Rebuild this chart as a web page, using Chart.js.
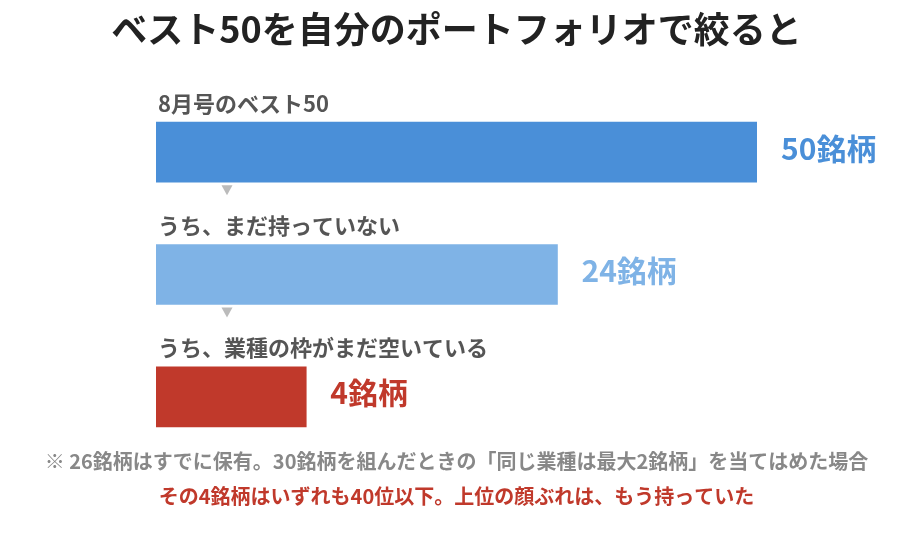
<!DOCTYPE html>
<html>
<head>
<meta charset="utf-8">
<script src="https://cdn.jsdelivr.net/npm/chart.js@4"></script>
<style>
  html, body { margin: 0; padding: 0; background: #fff; }
  #wrap { width: 913px; height: 542px; position: relative; }
</style>
</head>
<body>
<div id="wrap"><canvas id="chart"></canvas></div>
<script>
var titleText = 'ベスト50を自分のポートフォリオで絞ると';
var categories = ['8月号のベスト50', 'うち、まだ持っていない', 'うち、業種の枠がまだ空いている'];
var counts = [50, 24, 4];
// bar lengths as drawn in the picture (same units as the top bar = 50)
var barLengths = [50, 33.4, 12.5];
var barColors = ['#4a8fd8', '#7fb3e6', '#c0392b'];
var notes = [
    '※ 26銘柄はすでに保有。30銘柄を組んだときの「同じ業種は最大2銘柄」を当てはめた場合',
    'その4銘柄はいずれも40位以下。上位の顔ぶれは、もう持っていた'
];
var noteColors = ['#888888', '#c0392b'];

var FONT = '"Noto Sans CJK JP", "Noto Sans", sans-serif';

// draws title, labels above bars, value labels, arrows and notes
var decorations = {
    id: 'decorations',
    afterDatasetsDraw: function (chart) {
        var ctx = chart.ctx;
        var bars = chart.getDatasetMeta(0).data;
        ctx.save();

        ctx.fillStyle = '#222';
        ctx.font = 'bold 36px ' + FONT;
        ctx.textAlign = 'center';
        ctx.textBaseline = 'middle';
        ctx.fillText(titleText, chart.width / 2, 29);

        bars.forEach(function (bar, i) {
            var top = bar.y - bar.height / 2;
            var bottom = bar.y + bar.height / 2;

            ctx.textAlign = 'left';
            ctx.fillStyle = '#555';
            ctx.font = 'bold 22px ' + FONT;
            ctx.fillText(categories[i], bar.base + 2, top - 19);

            ctx.fillStyle = barColors[i];
            ctx.font = 'bold 30px ' + FONT;
            ctx.fillText(counts[i] + '銘柄', bar.x + 24, bar.y - 4);

            if (i < bars.length - 1) {
                var ax = bar.base + 71;
                ctx.fillStyle = '#bbbbbb';
                ctx.beginPath();
                ctx.moveTo(ax - 5.5, bottom + 3);
                ctx.lineTo(ax + 5.5, bottom + 3);
                ctx.lineTo(ax, bottom + 13);
                ctx.closePath();
                ctx.fill();
            }
        });

        ctx.textAlign = 'center';
        ctx.font = 'bold 20px ' + FONT;
        ctx.fillStyle = noteColors[0];
        ctx.fillText(notes[0], chart.width / 2, 461);
        ctx.fillStyle = noteColors[1];
        ctx.fillText(notes[1], chart.width / 2, 496);

        ctx.restore();
    }
};

new Chart(document.getElementById('chart'), {
    type: 'bar',
    data: {
        labels: categories,
        datasets: [{
            data: barLengths,
            backgroundColor: barColors,
            borderWidth: 0,
            barThickness: 60
        }]
    },
    options: {
        indexAxis: 'y',
        responsive: true,
        maintainAspectRatio: false,
        animation: false,
        layout: { padding: { top: 91, bottom: 84, left: 156, right: 156 } },
        scales: {
            x: { display: false, min: 0, max: 50 },
            y: { display: false }
        },
        plugins: {
            legend: { display: false },
            tooltip: { enabled: false }
        }
    },
    plugins: [decorations]
});
</script>
</body>
</html>
